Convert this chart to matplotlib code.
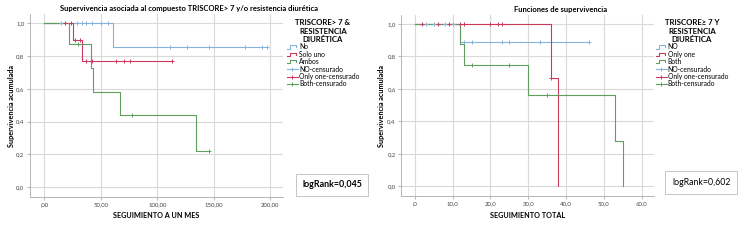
import numpy as np
import matplotlib
matplotlib.use("Agg")
import matplotlib.pyplot as plt
from matplotlib.lines import Line2D
from matplotlib.legend_handler import HandlerBase

plt.rcParams['font.family'] = ['Lato', 'DejaVu Sans']

# ---- data: left panel (seguimiento a un mes) ----
left_groups = ['No', 'Solo uno', 'Ambos']
left_event_t = [[61], [25, 33.5], [22, 41, 43, 67, 134]]
left_event_s = [[0.857], [0.9, 0.771], [0.875, 0.729, 0.583, 0.4375, 0.219]]
left_cens_t = [[15, 29, 33, 37, 42, 50, 56, 111, 126, 146, 178, 193, 197],
               [18, 24, 27.5, 32, 36.5, 42, 63.5, 70.5, 75.5, 113],
               [30, 78, 146]]
left_xticks = [0, 50, 100, 150, 200]
left_xticklabels = [',00', '50,00', '100,00', '150,00', '200,00']

# ---- data: right panel (seguimiento total) ----
right_groups = ['NO', 'Only one', 'Both']
right_event_t = [[12], [36, 38], [12, 13, 30, 53, 55]]
right_event_s = [[0.889], [0.667, 0.0], [0.875, 0.75, 0.5625, 0.281, 0.0]]
right_cens_t = [[3, 5, 8, 10, 13, 15, 23, 25, 33, 46],
                [2, 6, 9, 12, 13, 20, 22, 23, 36],
                [15, 25, 35]]
right_xticks = [0, 10, 20, 30, 40, 50, 60]
right_xticklabels = [',0', '10,0', '20,0', '30,0', '40,0', '50,0', '60,0']

yticks = [0, 0.2, 0.4, 0.6, 0.8, 1.0]
yticklabels = ['0,0', '0,2', '0,4', '0,6', '0,8', '1,0']
colors = ['#86B3DC', '#C93A5C', '#5E9F5E']
cens_suffix = ['NO-censurado', 'Only one-censurado', 'Both-censurado']


class StepHandler(HandlerBase):
    # step-shaped legend key, like SPSS survival plots
    def create_artists(self, legend, orig_handle, xdescent, ydescent,
                       width, height, fontsize, trans):
        x0, x1 = -xdescent, -xdescent + width
        yl, yh = -ydescent + 0.15 * height, -ydescent + 0.85 * height
        xs = [x0, x0 + 0.3 * width, x0 + 0.3 * width, x1 - 0.1 * width, x1 - 0.1 * width]
        ys = [yl, yl, yh, yh, yl + 0.3 * height]
        ln = Line2D(xs, ys, color=orig_handle.get_color(), lw=0.8, transform=trans)
        return [ln]


def draw_panel(ax, groups, ev_t, ev_s, cens_t, xticks, xlabels, xlim, ylabelpad):
    handles = []
    for i, g in enumerate(groups):
        t = [0] + list(ev_t[i])
        s = [1.0] + list(ev_s[i])
        end = max(max(cens_t[i]), t[-1])
        ax.step(t + [end], s + [s[-1]], where='post', color=colors[i], lw=0.8, zorder=3)
        # censored marks on the curve
        ct = np.array(cens_t[i])
        idx = np.searchsorted(np.array(t), ct, side='right') - 1
        cy = np.array(s)[idx]
        ax.plot(ct, cy, ls='none', marker='+', ms=3.5, mew=0.7, color=colors[i], zorder=4)
        handles.append(Line2D([], [], color=colors[i], lw=0.8))
    cens_handles = [Line2D([], [], color=colors[i], lw=0.8, marker='+', ms=3.5, mew=0.7)
                    for i in range(3)]
    ax.set_xlim(*xlim)
    ax.set_ylim(-0.06, 1.055)
    ax.set_xticks(xticks)
    ax.set_xticklabels(xlabels)
    ax.set_yticks(yticks)
    ax.set_yticklabels(yticklabels)
    ax.tick_params(labelsize=4.3, length=2, width=0.5, color='#999999',
                   labelcolor='#444444', pad=2)
    ax.grid(True, color='#D9D9D9', lw=0.8)
    ax.set_axisbelow(True)
    for sp in ['top', 'right']:
        ax.spines[sp].set_visible(False)
    for sp in ['left', 'bottom']:
        ax.spines[sp].set_color('#AAAAAA')
        ax.spines[sp].set_linewidth(0.6)
    ax.set_ylabel('Supervivencia acumulada', fontsize=5.2, fontweight='bold',
                  labelpad=ylabelpad)
    return handles, cens_handles


legend_kw = dict(loc='upper left', frameon=False, fontsize=4.9,
                 title_fontproperties={'weight': 'bold', 'size': 5.6},
                 handlelength=1.6, handletextpad=0.2, labelspacing=0.06)

fig = plt.figure(figsize=(7.5, 2.43), dpi=100)

ax1 = fig.add_axes([0.040, 0.189, 0.337, 0.753])
h, ch = draw_panel(ax1, left_groups, left_event_t, left_event_s, left_cens_t,
                   left_xticks, left_xticklabels, (-12.6, 211), 0.5)
fig.text(0.252, 0.967, 'Supervivencia asociada al compuesto TRISCORE> 7 y/o resistencia diurética',
         fontsize=5.5, fontweight='bold', ha='center', va='center')
ax1.set_xlabel('SEGUIMIENTO A UN MES', fontsize=5.2, fontweight='bold', labelpad=3.5)
leg1 = fig.legend(h + ch, left_groups + cens_suffix,
                  title='TRISCORE> 7 &\nRESISTENCIA\nDIURÉTICA',
                  bbox_to_anchor=(0.374, 0.945),
                  handler_map={hh: StepHandler() for hh in h}, **legend_kw)
leg1.get_title().set_multialignment('center')
fig.text(0.443, 0.239, 'logRank=0,045', fontsize=6.4, fontweight='bold',
         ha='center', va='center',
         bbox=dict(boxstyle='square,pad=0.7', fc='white', ec='#BBBBBB', lw=0.6))

ax2 = fig.add_axes([0.535, 0.193, 0.337, 0.745])
h2, ch2 = draw_panel(ax2, right_groups, right_event_t, right_event_s, right_cens_t,
                     right_xticks, right_xticklabels, (-3.6, 63.3), 1.5)
fig.text(0.747, 0.959, 'Funciones de supervivencia', fontsize=5.5, fontweight='bold',
         ha='center', va='center')
ax2.set_xlabel('SEGUIMIENTO TOTAL', fontsize=5.2, fontweight='bold', labelpad=3.5)
leg2 = fig.legend(h2 + ch2, right_groups + cens_suffix,
                  title='TRISCORE≥ 7 Y\nRESISTENCIA\nDIURÉTICA',
                  bbox_to_anchor=(0.866, 0.945),
                  handler_map={hh: StepHandler() for hh in h2}, **legend_kw)
leg2.get_title().set_multialignment('center')
fig.text(0.935, 0.249, 'logRank=0,602', fontsize=6.3,
         ha='center', va='center',
         bbox=dict(boxstyle='square,pad=0.8', fc='white', ec='#BBBBBB', lw=0.6))

fig.savefig('out.png', dpi=100)
